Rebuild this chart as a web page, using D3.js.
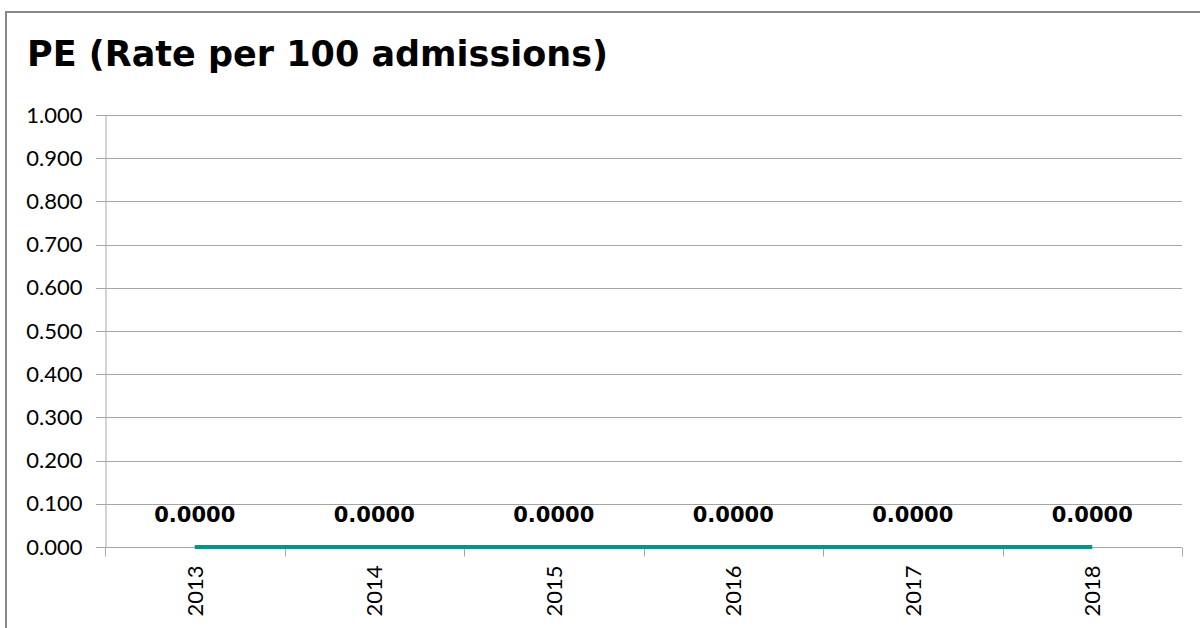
<!DOCTYPE html>
<html lang="en">
  <head>
    <meta charset="UTF-8" />
    <title>PE (Rate per 100 admissions)</title>
    <script src="https://cdn.jsdelivr.net/npm/d3@7/dist/d3.min.js"></script>
    <style>
      body {
        margin: 0;
        padding: 0;
        background: #fff;
        font-family: Lato, "Open Sans", sans-serif;
      }
    </style>
  </head>
  <body>
    <svg id="chart"></svg>
    <script>
      // data
      const years = ["2013", "2014", "2015", "2016", "2017", "2018"];
      const rates = [0, 0, 0, 0, 0, 0];
      const yTicks = [0, 0.1, 0.2, 0.3, 0.4, 0.5, 0.6, 0.7, 0.8, 0.9, 1.0];

      const width = 1200;
      const height = 628;
      const margin = { top: 115, right: 18, bottom: 81, left: 105 };

      const svg = d3
        .select("#chart")
        .attr("width", width)
        .attr("height", height);

      // outer frame (runs off right and bottom like the original)
      svg
        .append("rect")
        .attr("x", 6)
        .attr("y", 12)
        .attr("width", width)
        .attr("height", height)
        .attr("fill", "none")
        .attr("stroke", "#888")
        .attr("stroke-width", 2);

      svg
        .append("text")
        .attr("x", 27)
        .attr("y", 66)
        .attr("font-size", "35px")
        .attr("font-family", "'DejaVu Sans', sans-serif")
        .attr("font-weight", "bold")
        .attr("fill", "#000")
        .text("PE (Rate per 100 admissions)");

      const x = d3
        .scaleBand()
        .domain(years)
        .range([margin.left, width - margin.right]);

      const y = d3
        .scaleLinear()
        .domain([0, 1])
        .range([height - margin.bottom, margin.top]);

      // grid lines
      svg
        .append("g")
        .selectAll("line")
        .data(yTicks)
        .enter()
        .append("line")
        .attr("x1", margin.left - 9)
        .attr("x2", width - margin.right)
        .attr("y1", (d) => Math.round(y(d)) + 0.5)
        .attr("y2", (d) => Math.round(y(d)) + 0.5)
        .attr("stroke", "#a6a6a6")
        .attr("stroke-width", 1);

      // y axis
      const yAxis = svg
        .append("g")
        .attr("transform", `translate(${margin.left + 0.5},0)`)
        .call(
          d3
            .axisLeft(y)
            .tickValues(yTicks)
            .tickFormat(d3.format(".3f"))
            .tickSize(0)
            .tickPadding(23)
        );
      yAxis.select(".domain").attr("stroke", "#a6a6a6");
      yAxis
        .selectAll("text")
        .attr("font-size", "22px")
        .attr("font-family", "Lato, sans-serif")
        .attr("fill", "#000");

      // x axis with ticks on category boundaries
      const yBase = Math.round(y(0)) + 0.5;
      const bounds = years.map((d) => x(d)).concat([x.range()[1]]);
      svg
        .append("g")
        .selectAll("line")
        .data(bounds)
        .enter()
        .append("line")
        .attr("x1", (d) => Math.round(d) + 0.5)
        .attr("x2", (d) => Math.round(d) + 0.5)
        .attr("y1", yBase)
        .attr("y2", yBase + 9)
        .attr("stroke", "#a6a6a6");

      svg
        .append("g")
        .selectAll("text")
        .data(years)
        .enter()
        .append("text")
        .attr(
          "transform",
          (d) => `translate(${x(d) + x.bandwidth() / 2 + 8},${yBase + 18}) rotate(-90)`
        )
        .attr("text-anchor", "end")
        .attr("font-size", "22px")
        .attr("fill", "#000")
        .text((d) => d);

      // series line
      const line = d3
        .line()
        .x((d, i) => x(years[i]) + x.bandwidth() / 2)
        .y((d) => y(d));

      svg
        .append("path")
        .datum(rates)
        .attr("d", line)
        .attr("fill", "none")
        .attr("stroke", "#009688")
        .attr("stroke-width", 4);

      // data labels
      svg
        .append("g")
        .selectAll("text")
        .data(rates)
        .enter()
        .append("text")
        .attr("x", (d, i) => x(years[i]) + x.bandwidth() / 2)
        .attr("y", (d) => y(d) - 25)
        .attr("text-anchor", "middle")
        .attr("font-size", "21px")
        .attr("font-family", "'DejaVu Sans', sans-serif")
        .attr("font-weight", "bold")
        .attr("fill", "#000")
        .text((d) => d.toFixed(4));
    </script>
  </body>
</html>
